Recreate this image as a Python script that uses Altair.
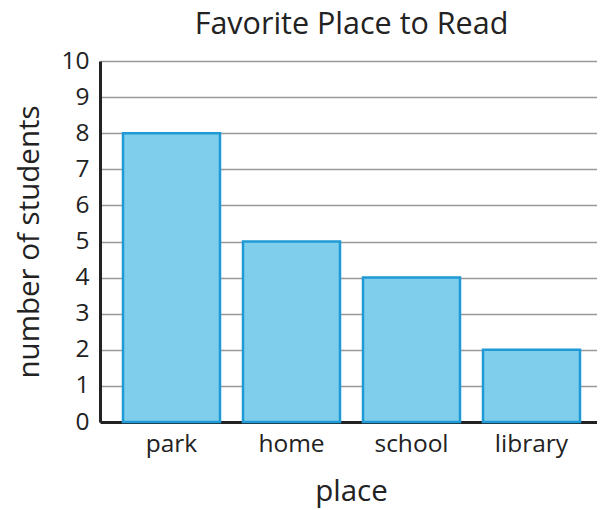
import altair as alt
import pandas as pd

places = ["park", "home", "school", "library"]
students = [8, 5, 4, 2]

df = pd.DataFrame({"place": places, "students": students})

font = "Open Sans"

chart = alt.Chart(df).mark_bar(
    fill="#7fceeb", stroke="#1f9ad6", strokeWidth=2.5
).encode(
    x=alt.X("place:N", sort=places, title="place",
            scale=alt.Scale(paddingInner=0.1917, paddingOuter=0.1667, align=0.575),
            axis=alt.Axis(labelAngle=0, labelFontSize=24.5, titleFontSize=29.5,
                          labelFont=font, titleFont=font, labelColor="#222",
                          titleColor="#222", titleFontWeight="normal",
                          domainColor="#222", domainWidth=3, ticks=False,
                          labelPadding=10, titlePadding=22, titleX=251)),
    y=alt.Y("students:Q", title="number of students",
            scale=alt.Scale(domain=[0, 10], nice=False),
            axis=alt.Axis(values=list(range(0, 11)), labelFontSize=24.5,
                          titleFontSize=29.5, labelFont=font, titleFont=font,
                          labelColor="#222", titleColor="#222",
                          titleFontWeight="normal", domainColor="#222",
                          domainWidth=3, ticks=False, labelPadding=11,
                          titlePadding=16, gridColor="#999", gridWidth=1.5,
                          grid=True))
).properties(
    width=497, height=361,
    title=alt.TitleParams("Favorite Place to Read", fontSize=30.5, font=font,
                          fontWeight="normal", color="#222", offset=8, dx=3),
    autosize=alt.AutoSizeParams(type="none"),
    padding={"left": 92, "top": 53, "right": 0, "bottom": 88}
).configure_view(stroke=None).configure_axisX(grid=False)

chart.save("out.html", embed_options={"renderer": "svg", "actions": False})
